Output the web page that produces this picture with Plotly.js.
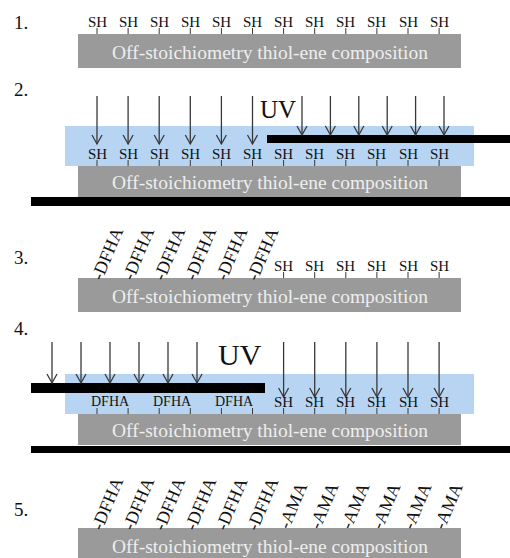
<!DOCTYPE html>
<html><head><meta charset="utf-8">
<script src="https://cdn.plot.ly/plotly-3.0.1.min.js"></script>
<style>html,body{margin:0;padding:0;background:#fff;}#chart{width:510px;height:558px;}</style>
</head><body><div id="chart"></div>
<script>
// ---- content ----
const stepLabels = ["1.", "2.", "3.", "4.", "5."];
const step1Sites = ["SH","SH","SH","SH","SH","SH","SH","SH","SH","SH","SH","SH"];
const step2Sites = ["SH","SH","SH","SH","SH","SH","SH","SH","SH","SH","SH","SH"];
const step3Sites = ["DFHA","DFHA","DFHA","DFHA","DFHA","DFHA","SH","SH","SH","SH","SH","SH"];
const step4Grafted = ["DFHA","DFHA","DFHA"];
const step4Free = ["SH","SH","SH","SH","SH","SH"];
const step5Sites = ["DFHA","DFHA","DFHA","DFHA","DFHA","DFHA","AMA","AMA","AMA","AMA","AMA","AMA"];
const rotatedLabels = ["DFHA","AMA"];
const boxText = "Off-stoichiometry thiol-ene composition";
const uvText = "UV";

// ---- layout geometry & styles ----
const SERIF = "'Liberation Serif', 'Times New Roman', serif";
const GRAY = "#9a9a9a", BLUE = "#b7d5f3", BOXTXT = "#eeeeee", INK = "#383838";
const siteX = i => 97 + i * 31.1;
const boxL = 78, boxR = 461;
const boxTop = [34, 166, 278, 414, 528];
const boxH = [34, 31, 34, 31, 40];
const labelY = [22, 89, 257, 328, 509];

const shapes = [], annotations = [];
function rect(x0, y0, x1, y1, fill) {
  shapes.push({type:'rect', xref:'x', yref:'y', x0, y0, x1, y1, fillcolor:fill, line:{width:0}, layer:'above'});
}
function seg(x0, y0, x1, y1, w, c) {
  shapes.push({type:'line', xref:'x', yref:'y', x0, y0, x1, y1, line:{width:w, color:c}, layer:'above'});
}
function arrow(x, top, tip) {
  seg(x, top, x, tip, 1.3, INK);
  shapes.push({type:'path', xref:'x', yref:'y', path:`M${x-5},${tip-9} L${x},${tip} L${x+5},${tip-9}`,
    line:{width:1.3, color:INK}, layer:'above'});
}
function text(x, y, t, size, opts) {
  annotations.push(Object.assign({xref:'x', yref:'y', x, y, text:t, showarrow:false,
    font:{family:SERIF, size, color:'#111'}, xanchor:'center', yanchor:'middle'}, opts || {}));
}
function siteLabels(p, labels) {
  labels.forEach((lab, i) => {
    const x = siteX(i);
    if (rotatedLabels.includes(lab)) {
      const sh = lab === "DFHA" ? [10, 24] : [9, 22];
      text(x, boxTop[p], "-" + lab, 18, {textangle:-67, xshift:sh[0], yshift:sh[1]});
    } else {
      seg(x, boxTop[p] - 6, x, boxTop[p], 1, INK);
      text(x, boxTop[p] - 12.5, lab, 15);
    }
  });
}

// blue (photoresist / monomer) layers
rect(65, 126, 474, 166, BLUE);
rect(65, 374, 474, 414, BLUE);

stepLabels.forEach((lab, p) => {
  rect(boxL, boxTop[p], boxR, boxTop[p] + boxH[p], GRAY);
  text(boxL + (boxR - boxL) / 2, boxTop[p] + Math.min(boxH[p], 34) / 2 + 1, boxText, 19.5, {font:{family:SERIF, size:19.5, color:BOXTXT}});
  text(12, labelY[p], lab, 19, {xanchor:'left'});
});

siteLabels(0, step1Sites);
siteLabels(1, step2Sites);
siteLabels(2, step3Sites);
siteLabels(4, step5Sites);
// panel 4 labels
step4Grafted.forEach((lab, k) => {
  seg(siteX(2*k), boxTop[3] - 6, siteX(2*k), boxTop[3], 1, INK);
  seg(siteX(2*k+1), boxTop[3] - 6, siteX(2*k+1), boxTop[3], 1, INK);
  text((siteX(2*k) + siteX(2*k+1)) / 2 - 2, boxTop[3] - 12.5, lab, 14);
});
step4Free.forEach((lab, k) => {
  const x = siteX(6 + k);
  seg(x, boxTop[3] - 6, x, boxTop[3], 1, INK);
  text(x, boxTop[3] - 12.5, lab, 15);
});

// black masks
rect(31, 197, 510, 206, "#000");
rect(267, 135, 510, 143, "#000");
rect(31, 446, 510, 453, "#000");
rect(31, 383, 265, 393, "#000");

// arrows panel 2
for (let i = 0; i < 6; i++) arrow(siteX(i), 96, 144);
for (let k = 0; k < 6; k++) arrow(302 + k * 28.4, 96, 135);
// arrows panel 4
for (let k = 0; k < 6; k++) arrow(52 + k * 29, 342, 383);
for (let i = 6; i < 12; i++) arrow(siteX(i), 342, 397);

text(278, 109, uvText, 25);
text(240, 354, uvText, 30);

Plotly.newPlot('chart', [], {
  width:510, height:558, margin:{l:0, r:0, t:0, b:0},
  paper_bgcolor:'#fff', plot_bgcolor:'#fff', showlegend:false,
  xaxis:{range:[0,510], visible:false, fixedrange:true},
  yaxis:{range:[558,0], visible:false, fixedrange:true},
  shapes, annotations
}, {displayModeBar:false, staticPlot:true});
</script></body></html>
